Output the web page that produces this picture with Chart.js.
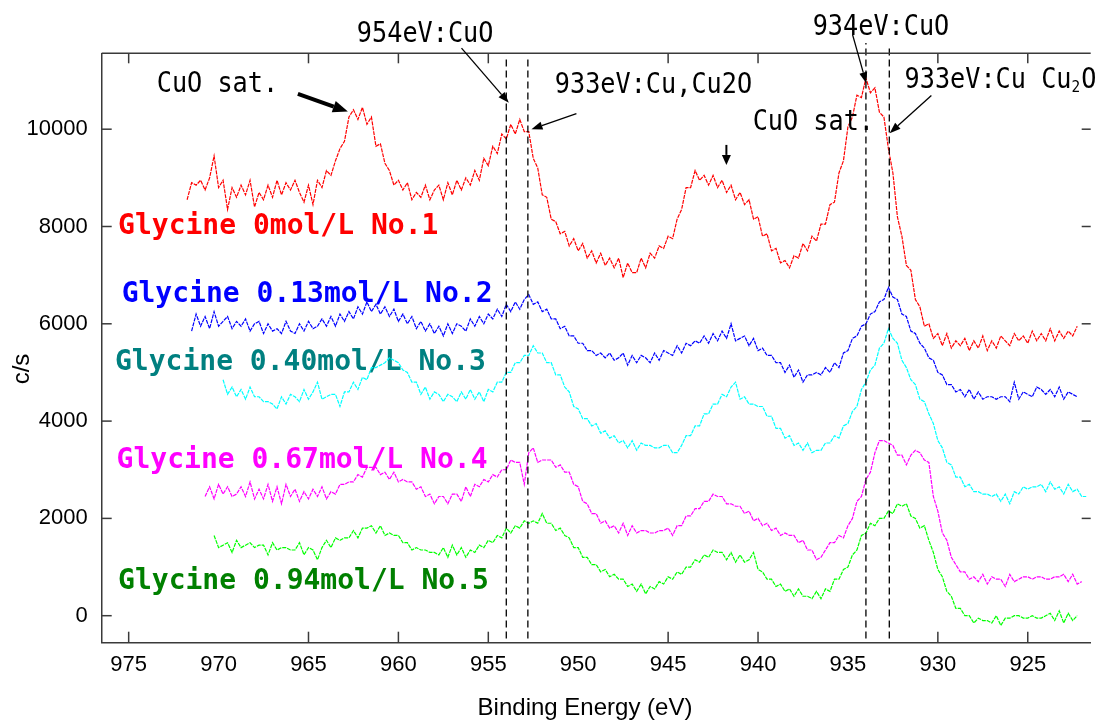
<!DOCTYPE html>
<html>
<head>
<meta charset="utf-8">
<script src="https://cdn.jsdelivr.net/npm/chart.js@4.4.1/dist/chart.umd.min.js"></script>
<style>
html,body{margin:0;padding:0;background:#fff;}
#wrap{width:1104px;height:723px;position:relative;}
</style>
</head>
<body>
<div id="wrap"><canvas id="c" width="1104" height="723"></canvas></div>
<script>
// ---------- data ----------
const STEP = 0.25; // eV between points
const xTickLabels = [975, 970, 965, 960, 955, 950, 945, 940, 935, 930, 925];
const xTickMarks = [975, 965, 960, 955, 945, 940, 930, 925];
const yTickLabels = [0, 2000, 4000, 6000, 8000, 10000];
const yTickMarksRight = [2000, 4000, 6000, 8000, 10000];
const X_MIN = 921.5, X_MAX = 976.5, Y_MIN = -555, Y_MAX = 11560;

const seriesNames = ["Glycine 0mol/L No.1", "Glycine 0.13mol/L No.2", "Glycine 0.40mol/L No.3",
                     "Glycine 0.67mol/L No.4", "Glycine 0.94mol/L No.5"];
const seriesStart = [971.75, 971.5, 969.75, 970.75, 970.25];
const lineColors = ["#ff0000", "#0000ff", "#00ffff", "#ff00ff", "#00ff00"];
const labelColors = ["#ff0000", "#0000ff", "#008080", "#ff00ff", "#008000"];

const no1 = [
8550,8900,8850,8950, 8750,9000,9450,8800, 8950,8350,8800,8600, 8850,8650,8950,8400,
8700,8550,8850,8600, 8950,8650,8900,8750, 8950,8700,8500,8850, 8450,8950,8800,9150,
9050,9350,9600,9750, 10250,10400,10200,10450, 10100,10250,9650,9700, 9300,9150,8850,8950,
8750,8900,8550,8700, 8600,8850,8550,8750, 8850,8550,8900,8650, 8950,8750,9000,8850,
9150,8950,9400,9250, 9650,9500,9900,9800, 10100,9900,10200,9950, 9950,9400,9200,8650,
8600,8150,8100,7850, 7900,7600,7750,7500, 7650,7350,7500,7250, 7450,7200,7350,7150,
7350,6950,7250,7050, 7050,7350,7150,7450, 7350,7600,7550,7800, 7750,8150,8350,8800,
8800,9150,8950,9050, 8850,9050,8800,8950, 8700,8850,8550,8700, 8450,8550,8150,8200,
7800,7850,7500,7550, 7250,7300,7150,7400, 7350,7650,7500,7800, 7700,8050,8050,8450,
8500,9100,9350,10050, 10250,10700,10650,11050, 10750,10850,10350,10250, 9600,9100,8200,7800,
7200,7100,6500,6350, 5950,6000,5700,5800, 5550,5800,5500,5650, 5550,5700,5450,5650,
5500,5750,5450,5650, 5500,5750,5650,5550, 5800,5650,5750,5600, 5850,5650,5800,5650,
5900,5650,5850,5700, 5850,5750,5950];

const no2 = [
5850,6200,5950, 6150,5900,6250,5950, 6050,6150,5900,6050, 5950,6100,5850,6000,
6050,5800,6000,5850, 5900,5800,6050,5850, 5800,6000,5850,6050, 5900,5950,6100,5950,
6150,5950,6200,6050, 6250,6100,6350,6200, 6450,6250,6400,6200, 6350,6150,6300,6050,
6200,6000,6150,5900, 6050,5850,6000,5800, 5950,5750,6000,5800, 6000,5950,5850,6100,
5950,6150,6000,6200, 6100,6300,6150,6400, 6250,6450,6300,6500, 6600,6400,6450,6250,
6300,6100,6100,5900, 5950,5750,5750,5600, 5600,5450,5450,5350, 5400,5300,5400,5250,
5300,5400,5150,5350, 5200,5350,5300,5200, 5400,5250,5450,5400, 5350,5550,5400,5600,
5550,5650,5600,5750, 5600,5800,5650,5850, 5700,6000,5650,5700, 5750,5550,5700,5450,
5500,5350,5350,5200, 5200,5000,5150,4900, 5050,4800,4950,4950, 5000,4950,5100,5000,
5200,5100,5400,5450, 5700,5750,5950,6000, 6200,6250,6450,6500, 6750,6550,6500,6200,
6150,5850,5800,5600, 5500,5300,5250,5000, 4950,4750,4750,4600, 4650,4500,4650,4450,
4600,4450,4500,4500, 4450,4500,4500,4400, 4800,4450,4600,4550, 4500,4700,4650,4550,
4650,4500,4700,4450, 4600,4550,4500];

const no3 = [
4850,4550,4700,4500, 4650,4450,4700,4500, 4500,4400,4400,4350, 4250,4500,4350,4550,
4500,4400,4650,4450, 4600,4800,4450,4500, 4550,4550,4300,4600, 4600,4800,4650,4900,
4850,5100,5100,5150, 5200,5300,5250,5200, 5050,5000,4800,4800, 4550,4700,4450,4600,
4550,4400,4550,4500, 4400,4600,4450,4650, 4450,4600,4400,4650, 4600,4800,4800,5000,
5000,5200,5200,5350, 5350,5550,5400,5400, 5200,5200,4950,4950, 4700,4600,4300,4250,
4050,4050,3900,3950, 3750,3800,3650,3700, 3550,3600,3450,3600, 3400,3550,3500,3500,
3450,3450,3500,3500, 3350,3350,3500,3700, 3700,3900,3900,4150, 4150,4350,4350,4550,
4500,4700,4800,4450, 4500,4350,4350,4300, 4300,4100,4100,3850, 3850,3650,3700,3500,
3550,3400,3550,3350, 3400,3400,3550,3550, 3700,3650,3900,3950, 4200,4300,4650,4800,
5050,5150,5500,5600, 5900,5700,5600,5250, 5100,4850,4750,4450, 4400,4150,3950,3600,
3450,3150,3100,2850, 2850,2650,2700,2550, 2550,2500,2500,2450, 2500,2350,2500,2300,
2550,2500,2650,2600, 2650,2650,2700,2550, 2750,2600,2650,2500, 2700,2550,2600,2450,
2450];

const no4 = [
2450,2650,2400,2700, 2500,2650,2450,2500, 2650,2450,2750,2400, 2600,2400,2700,2350,
2650,2300,2700,2450, 2600,2350,2550,2400, 2600,2450,2650,2400, 2550,2500,2700,2700,
2750,2750,2900,2850, 3050,3050,3050,2900, 2950,2800,2950,2750, 2800,2750,2750,2600,
2650,2450,2500,2300, 2450,2450,2300,2500, 2500,2350,2650,2450, 2700,2650,2800,2750,
2900,2850,3000,3000, 3200,3150,3150,2700, 3350,3450,3150,3200, 3200,3200,3050,3100,
2950,2950,2700,2650, 2350,2300,2100,2100, 1900,1950,1800,1850, 1700,1900,1650,1850,
1700,1750,1750,1700, 1700,1750,1750,1800, 1650,1850,1850,2050, 2050,2200,2200,2350,
2350,2500,2450,2450, 2300,2300,2250,2250, 2100,2150,1950,2000, 1850,1900,1750,1800,
1650,1700,1650,1650, 1500,1550,1350,1350, 1150,1200,1350,1500, 1500,1650,1600,1850,
2000,2350,2450,2800, 2950,3350,3600,3600, 3550,3500,3300,3300, 3100,3300,3400,3350,
3200,3150,2450,2150, 1700,1550,1200,1050, 900,900,750,800, 700,850,650,800,
750,750,600,850, 700,750,800,800, 750,800,800,750, 750,800,800,850,
700,850,650,700];

const no5 = [
1650,1400, 1450,1500,1300,1550, 1400,1450,1500,1400, 1450,1450,1250,1500,
1350,1400,1400,1350, 1350,1500,1250,1400, 1350,1150,1400,1550, 1400,1600,1550,1600,
1600,1750,1600,1800, 1800,1850,1700,1850, 1650,1700,1650,1650, 1500,1500,1350,1400,
1350,1350,1300,1300, 1250,1400,1200,1450, 1250,1400,1200,1350, 1300,1450,1400,1550,
1500,1650,1600,1800, 1700,1850,1800,1950, 1900,1950,1900,2100, 1900,1900,1750,1800,
1650,1600,1400,1400, 1200,1200,1050,1050, 900,950,800,850, 750,750,600,650,
500,650,450,600, 550,700,650,800, 750,900,850,1000, 1000,1150,1100,1250,
1200,1350,1300,1300, 1150,1300,1100,1250, 1100,1150,1300,950, 900,750,750,600,
650,500,550,400, 550,400,400,350, 500,350,550,500, 750,750,950,1000,
1250,1350,1650,1700, 1900,1850,2000,2000, 2150,2100,2300,2250, 2300,2050,2000,1800,
1850,1550,1300,950, 800,500,400,150, 150,0,0,-150, -50,-100,-100,-150,
0,-200,-50,-50, 0,0,-50,-50, 0,-50,-50,0, 50,-100,100,-150,
50,-100,0];

const seriesValues = [no1, no2, no3, no4, no5];

// reference energies (dashed vertical lines)
const markerEnergies = [954, 952.8, 934, 932.7];
const markerTop = [11480, 11480, 11770, 11700];
const markerBottom = -470;

// ---------- build ----------
const AXIS = "#3a3a3a";
const TICK_FONT = {family: "'Liberation Sans', Arial, sans-serif", size: 22};
const datasets = [];
markerEnergies.forEach((e, i) => {
  datasets.push({
    data: [{x: e, y: markerBottom}, {x: e, y: markerTop[i]}],
    borderColor: "#000", borderWidth: 1.3, borderDash: [7, 4],
    pointRadius: 0, clip: false, tension: 0
  });
});
seriesValues.forEach((vals, s) => {
  datasets.push({
    label: seriesNames[s],
    data: vals.map((v, i) => ({x: seriesStart[s] - i * STEP, y: v})),
    borderColor: lineColors[s], borderWidth: 1.2, borderDash: [4, 1],
    pointRadius: 0, tension: 0
  });
});

function monoText(ctx, str, px, py, size, bold, sx, color) {
  ctx.save();
  ctx.font = (bold ? "bold " : "") + size + 'px "DejaVu Sans Mono"';
  ctx.fillStyle = color; ctx.textBaseline = "middle"; ctx.textAlign = "left";
  ctx.translate(px, py); ctx.scale(sx, 1);
  ctx.fillText(str, 0, 0);
  const w = ctx.measureText(str).width * sx;
  ctx.restore();
  return w;
}
function arrow(ctx, x1, y1, x2, y2, lw, hl, hw) {
  const a = Math.atan2(y2 - y1, x2 - x1);
  const bx = x2 - hl * Math.cos(a), by = y2 - hl * Math.sin(a);
  ctx.save();
  ctx.strokeStyle = "#000"; ctx.fillStyle = "#000"; ctx.lineWidth = lw;
  ctx.beginPath(); ctx.moveTo(x1, y1); ctx.lineTo(bx, by); ctx.stroke();
  ctx.beginPath(); ctx.moveTo(x2, y2);
  ctx.lineTo(bx + hw * Math.sin(a), by - hw * Math.cos(a));
  ctx.lineTo(bx - hw * Math.sin(a), by + hw * Math.cos(a));
  ctx.closePath(); ctx.fill();
  ctx.restore();
}

// annotation anchors in data units (eV, c/s)
const labelAnchors = [[975.59, 7991], [975.39, 6593], [975.76, 5195], [975.67, 3187], [975.59, 699]];
const notes = [
  {t: "CuO sat.", e: 973.44, v: 10911},
  {t: "954eV:CuO", e: 962.31, v: 11939},
  {t: "933eV:Cu,Cu2O", e: 951.30, v: 10898},
  {t: "CuO sat.", e: 940.30, v: 10130},
  {t: "934eV:CuO", e: 936.96, v: 12091}
];
const arrows = [
  {e1: 965.59, v1: 10726, e2: 962.81, v2: 10362, w: 4, hl: 15, hw: 6},
  {e1: 956.49, v1: 11665, e2: 953.86, v2: 10541, w: 1.3, hl: 11, hw: 4},
  {e1: 950.10, v1: 10319, e2: 952.60, v2: 10000, w: 1.3, hl: 11, hw: 4},
  {e1: 941.76, v1: 9677, e2: 941.76, v2: 9266, w: 2, hl: 10, hw: 4.5},
  {e1: 934.74, v1: 11939, e2: 933.98, v2: 10946, w: 1.3, hl: 11, hw: 4},
  {e1: 930.36, v1: 10691, e2: 932.68, v2: 9918, w: 1.3, hl: 11, hw: 4}
];

const decor = {
  id: "decor",
  beforeDatasetsDraw(chart) {
    const {ctx, scales: {x, y}} = chart;
    labelAnchors.forEach((p, i) => {
      monoText(ctx, seriesNames[i], x.getPixelForValue(p[0]), y.getPixelForValue(p[1]), 28, true, 1.0, labelColors[i]);
    });
  },
  afterDraw(chart) {
    const {ctx, chartArea: a, scales: {x, y}} = chart;
    ctx.save();
    ctx.strokeStyle = AXIS; ctx.lineWidth = 1.5;
    const ln = (x1, y1, x2, y2) => { ctx.beginPath(); ctx.moveTo(x1, y1); ctx.lineTo(x2, y2); ctx.stroke(); };
    ln(a.left, a.top, a.right, a.top);
    xTickMarks.forEach(v => { const p = x.getPixelForValue(v); ln(p, a.bottom, p, a.bottom - 11); ln(p, a.top, p, a.top + 10); });
    yTickLabels.forEach(v => { const p = y.getPixelForValue(v); ln(a.left, p, a.left + 10, p); });
    yTickMarksRight.forEach(v => { const p = y.getPixelForValue(v); ln(a.right - 9, p, a.right, p); });
    ctx.restore();

    notes.forEach(n => monoText(ctx, n.t, x.getPixelForValue(n.e), y.getPixelForValue(n.v), 28, false, 0.9, "#000"));
    // "933eV:Cu Cu2O" with subscript
    const px = x.getPixelForValue(931.85), py = y.getPixelForValue(11000);
    const w1 = monoText(ctx, "933eV:Cu Cu", px, py, 28, false, 0.9, "#000");
    const w2 = monoText(ctx, "2", px + w1, py + 7, 16, false, 0.9, "#000");
    monoText(ctx, "O", px + w1 + w2 + 1, py, 28, false, 0.9, "#000");

    arrows.forEach(r => arrow(ctx, x.getPixelForValue(r.e1), y.getPixelForValue(r.v1),
                              x.getPixelForValue(r.e2), y.getPixelForValue(r.v2), r.w, r.hl, r.hw));

    // axis titles
    ctx.save();
    ctx.fillStyle = "#000"; ctx.font = "24px 'Liberation Sans', Arial, sans-serif";
    ctx.textAlign = "center"; ctx.textBaseline = "middle";
    ctx.fillText("Binding Energy (eV)", 585, 708);
    ctx.translate(22, 369); ctx.rotate(-Math.PI / 2);
    ctx.fillText("c/s", 0, 0);
    ctx.restore();
  }
};

new Chart(document.getElementById("c"), {
  type: "line",
  data: {datasets},
  options: {
    responsive: false, animation: false, devicePixelRatio: 1,
    layout: {padding: {left: 0, right: 13.3, top: 53.3, bottom: 0}},
    plugins: {legend: {display: false}, tooltip: {enabled: false}},
    scales: {
      x: {
        type: "linear", reverse: true, min: X_MIN, max: X_MAX,
        afterBuildTicks: s => { s.ticks = xTickLabels.map(v => ({value: v})); },
        afterFit: s => { s.height = 80.3; },
        grid: {display: false},
        border: {display: true, color: AXIS, width: 1.5},
        ticks: {color: "#000", font: TICK_FONT, padding: 1, maxRotation: 0, autoSkip: false,
                callback: v => String(v)}
      },
      y: {
        type: "linear", min: Y_MIN, max: Y_MAX,
        afterBuildTicks: s => { s.ticks = yTickLabels.map(v => ({value: v})); },
        afterFit: s => { s.width = 101.7; },
        grid: {display: false},
        border: {display: true, color: AXIS, width: 1.5},
        ticks: {color: "#000", font: TICK_FONT, padding: 6, callback: v => String(v)}
      }
    }
  },
  plugins: [decor]
});
</script>
</body>
</html>
